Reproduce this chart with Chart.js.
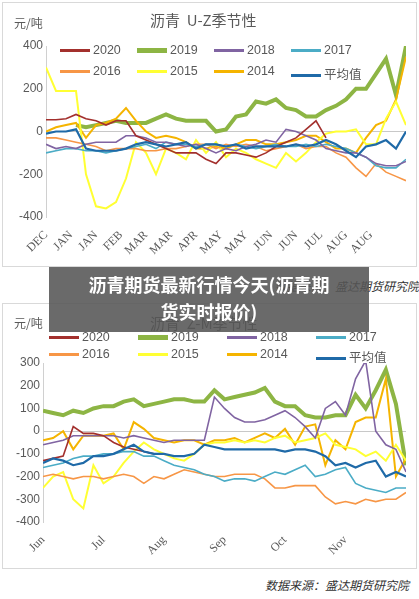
<!DOCTYPE html>
<html><head><meta charset="utf-8">
<script src="https://cdn.jsdelivr.net/npm/chart.js@4/dist/chart.umd.min.js"></script>
<style>
body{margin:0;width:419px;height:599px;background:#fff;position:relative;font-family:"Noto Sans CJK SC",sans-serif;overflow:hidden}
.box{position:absolute;left:2px;width:413px;border:1px solid #d9d9d9;background:#fff}
.t{position:absolute;color:#595959;white-space:nowrap}
.lg{position:absolute;font-size:12.5px;color:#595959;font-family:"Liberation Sans","Noto Sans CJK SC",sans-serif;white-space:nowrap}
.lg i{display:inline-block;width:30px;vertical-align:middle;margin-right:3px}
.src{position:absolute;font-style:italic;font-size:12px;color:#333;white-space:nowrap}
#banner{position:absolute;left:49px;top:267px;width:320px;height:65px;background:rgba(85,85,85,0.88);color:#fff;font-weight:bold;font-size:18px;text-align:center;line-height:27px;padding-top:4px;box-sizing:border-box}
</style></head><body>
<div class="box" style="top:2px;height:263px"><canvas id="c1"></canvas></div>
<div class="src" style="left:275px;top:277px">数据来源：盛达期货研究院</div>
<div class="box" style="top:303px;height:264px"><canvas id="c2"></canvas></div>
<div class="t" style="left:14px;top:14px;font-size:12px">元/吨</div>
<div class="t" style="left:150px;top:9px;font-size:15px">沥青&nbsp; U-Z季节性</div>
<div class="t" style="left:14px;top:314px;font-size:12px">元/吨</div>
<div class="t" style="left:150px;top:312px;font-size:15px">沥青&nbsp; Z-M季节性</div>
<div id="lg1"></div><div id="lg2"></div>
<div class="src" style="left:265px;top:576px">数据来源：盛达期货研究院</div>
<div id="banner">沥青期货最新行情今天(沥青期<br>货实时报价)</div>
<script>
const seriesNames=["2020","2019","2018","2017","2016","2015","2014","平均值"];
const colors=["#a3302d","#8db544","#8064a2","#4bacc6","#f79646","#ffff33","#f5b400","#1f6aa8"];
const widths=[1.6,4,1.6,1.6,1.6,2,2,2.2];
const topTickPos=[0,2.5,5,7.5,10,12.5,15,17.5,20,22.5,25,27.5,30,32.5];
const topTickLabels=["DEC","JAN","JAN","FEB","MAR","MAR","APR","MAY","MAY","JUN","JUN","JUL","AUG","AUG"];
const botTickPos=[0,6,12,18,24,30];
const botTickLabels=["Jun","Jul","Aug","Sep","Oct","Nov"];
const n=null;
// top chart U-Z
const top2020=[55,55,60,80,60,50,30,50,50,-20,-40,-60,-80,-100,-100,-100,-130,-150,-100,-100,-110,-120,-100,-70,-50,-30,10,50,-30,n,n,n,n,n,n,n,n];
const top2019=[n,n,n,30,20,30,40,50,40,40,40,60,80,60,50,50,50,0,10,70,80,140,130,150,110,100,70,70,100,120,150,200,200,270,340,170,400];
const top2018=[-60,-80,-70,-80,-60,-50,-50,-50,-20,-20,-30,-50,-50,-60,-70,-60,-80,-100,-80,-90,-70,-60,-40,-50,10,0,-20,-40,-80,-90,-100,-100,-120,-150,-160,-160,-140];
const top2017=[-100,-90,-80,-80,-90,-90,-100,-90,-80,-70,-60,-80,-50,-60,-60,-70,-60,-60,-70,-60,-70,-80,-70,-60,-70,-70,-60,-70,-60,-70,-80,-100,-120,-160,-170,-170,-130];
const top2016=[-30,-30,-40,-50,-60,-70,-90,-80,-80,-80,-90,-90,-80,-80,-70,-60,-60,-80,-60,-70,-60,-70,-90,-80,-70,-60,-80,-70,-70,-100,-120,-170,-210,-150,-190,-210,-230];
const top2015=[300,190,190,190,-200,-350,-360,-330,-220,-50,-100,-200,-80,-100,-130,-40,-100,-50,-120,-80,-100,-130,-150,-170,-100,-140,-100,-50,-10,0,0,10,-60,-60,60,140,30];
const top2014=[0,20,30,40,-30,30,40,60,110,50,0,-30,-20,-30,-50,-80,-80,-70,-80,-60,-40,-40,-60,-60,-50,-40,-20,-20,-50,-80,-80,-100,-30,30,50,150,350];
const topAvg=[-10,0,0,10,-80,-90,-90,-90,-80,-60,-50,-60,-70,-60,-50,-80,-60,-60,-70,-60,-80,-70,-70,-70,-70,-60,-70,-60,-40,-60,-90,-120,-70,-60,-40,-80,0];
// bottom chart Z-M
const bot2020=[-130,-120,-110,20,-10,-10,-20,-50,-70,-80,-90,-100,n,n,n,n,n,n,n,n,n,n,n,n,n,n,n,n,n,n,n,n,n,n,n,n,n];
const bot2019=[90,80,70,90,80,100,110,110,130,140,110,120,130,140,140,130,130,180,140,150,160,170,190,130,110,110,70,60,60,70,70,160,100,180,270,120,-150];
const bot2018=[-60,-50,-40,-20,-20,-20,-20,-20,-30,-20,-30,-40,-50,-40,-40,-40,-40,150,100,60,40,40,50,70,90,60,20,-30,100,130,70,230,310,0,-60,-80,-180];
const bot2017=[-160,-150,-140,-120,-110,-110,-100,-100,-90,-90,-110,-110,-130,-150,-160,-170,-190,-200,-220,-210,-210,-220,-200,-180,-190,-170,-150,-200,-190,-170,-160,-230,-250,-260,-270,-250,-250];
const bot2016=[-200,-190,-200,-210,-200,-200,-210,-200,-190,-200,-230,-200,-210,-190,-170,-180,-190,-200,-200,-190,-190,-190,-210,-250,-250,-240,-240,-240,-290,-320,-310,-320,-300,-310,-300,-300,-270];
const bot2015=[-250,-200,-180,-300,-340,-150,-230,-200,-140,-90,-50,-80,-100,-120,-130,-100,-60,-50,-50,-40,-50,-40,-50,-30,-20,-50,-40,-30,-10,-60,-70,-80,-110,-90,-130,-60,-130];
const bot2014=[-40,-30,0,-80,-20,-20,-20,-10,-80,40,10,-30,-40,-50,-40,-40,-60,-40,-40,-30,-50,-30,-10,-30,10,-60,20,30,-150,-40,-80,40,60,60,230,-200,-120];
const botAvg=[-140,-120,-130,-150,-140,-110,-110,-100,-80,-60,-90,-100,-100,-110,-110,-100,-60,-70,-80,-80,-80,-80,-80,-80,-90,-80,-80,-90,-110,-150,-140,-160,-140,-130,-200,-180,-200];

function legend(id,left0,top0,dx,dy){
  const el=document.getElementById(id);let h="";
  seriesNames.forEach((s,k)=>{
    const c=k%4,r=Math.floor(k/4);
    h+=`<div class="lg" style="left:${left0+c*dx}px;top:${top0+r*dy}px"><i style="height:${widths[k]<3?2.5:4.5}px;background:${colors[k]}"></i>${s}</div>`;
  });
  el.innerHTML=h;
}
legend("lg1",60,43,77,21);
legend("lg2",49,330,89,17);

function mk(id,arrs,ymin,ymax,step,tp,tl,leftW,padTop,botH){
  const ds=arrs.map((a,k)=>({label:seriesNames[k],data:a.map((v,i)=>({x:i,y:v})),borderColor:colors[k],borderWidth:widths[k],pointRadius:0,tension:0,spanGaps:false,order:k==1?9:(k==7?0:5)}));
  new Chart(document.getElementById(id),{type:'line',data:{datasets:ds},
  options:{responsive:true,maintainAspectRatio:false,animation:false,
    layout:{padding:{top:padTop,right:10,left:0,bottom:0}},
    plugins:{legend:{display:false},tooltip:{enabled:false}},
    scales:{
      x:{type:'linear',min:0,max:36,
        afterBuildTicks:s=>{s.ticks=tp.map(v=>({value:v}));},
        afterFit:s=>{s.height=botH;},
        ticks:{autoSkip:false,minRotation:45,maxRotation:45,color:'#595959',font:{family:'Liberation Serif',size:12},callback:(v)=>{const j=tp.indexOf(v);return j>=0?tl[j]:'';}},
        grid:{display:false},border:{display:false}},
      y:{min:ymin,max:ymax,afterFit:s=>{s.width=leftW;},
        ticks:{stepSize:step,color:'#595959',font:{family:'Liberation Sans',size:12}},
        grid:{drawTicks:false,color:c=>c.tick.value===0?'#c8c8c8':'rgba(0,0,0,0)'},
        border:{display:true,color:'#d0d0d0'}}
    }}});
}
mk("c1",[top2020,top2019,top2018,top2017,top2016,top2015,top2014,topAvg],-400,400,200,topTickPos,topTickLabels,43,43,49);
mk("c2",[bot2020,bot2019,bot2018,bot2017,bot2016,bot2015,bot2014,botAvg],-400,300,100,botTickPos,botTickLabels,40,59,46);
</script></body></html>
